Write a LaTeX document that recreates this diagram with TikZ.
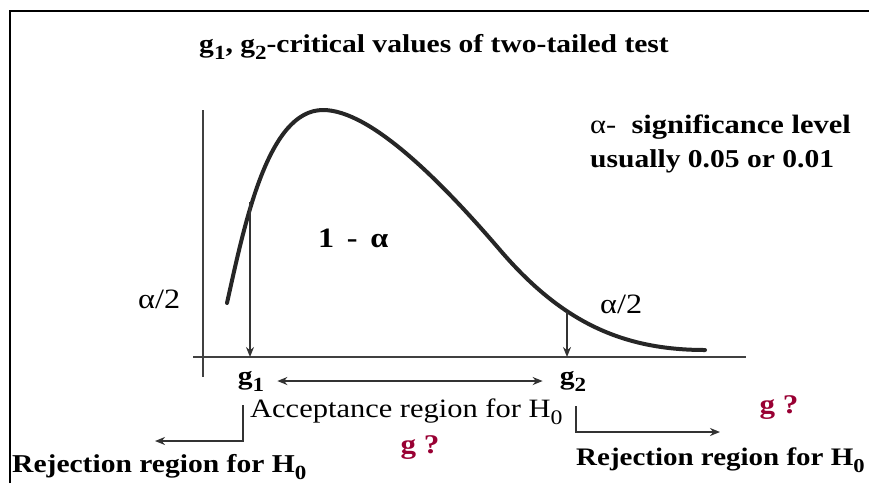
\documentclass[tikz,border=0pt]{standalone}
\usepackage{fontspec}
\setmainfont[FakeStretch=1.15]{Liberation Serif}
\usetikzlibrary{arrows.meta}
\definecolor{qred}{RGB}{153,0,51}
\newcommand{\lowidx}[1]{\raisebox{-0.28em}{\scalebox{0.78}{#1}}}

\begin{document}
\begin{tikzpicture}[x=1pt, y=-1pt,
	every node/.style={font=\fontsize{26.5}{30}\selectfont, inner sep=0pt},
	bold/.style={font=\fontsize{25.7}{30}\selectfont\bfseries},
	greek/.style={font=\fontsize{28}{30}\selectfont},
	query/.style={font=\fontsize{27}{30}\selectfont\bfseries, text=qred},
	axis/.style={line width=1.2pt, black!75},
	density/.style={line width=4pt, black!85, line cap=round},
	pointer/.style={line width=2.2pt, black!80, -{Stealth[length=10pt,width=8pt]}}]
	\useasboundingbox (0,0) rectangle (869,483);
	\draw[line width=2.5pt] (10,483) -- (10,11) -- (869,11);

	\node[bold, anchor=base] (title) at (434,52) {g\lowidx{1}, g\lowidx{2}-critical values of two-tailed test};

	% axes
	\coordinate (ytop) at (203,110);
	\coordinate (ybot) at (203,377);
	\coordinate (xleft) at (193,357);
	\coordinate (xright) at (746,357);
	\draw[axis] (ytop) -- (ybot);
	\draw[axis] (xleft) -- (xright);

	% density curve
	\coordinate (tail1) at (227,303);
	\coordinate (peak) at (323,110);
	\coordinate (bend) at (500,250);
	\coordinate (tail2) at (705,350);
	\draw[density] (tail1) .. controls (245,222) and (268,110) .. (peak)
		.. controls (370,110) and (440,180) .. (bend)
		.. controls (560,320) and (620,350) .. (tail2);

	% critical values
	\coordinate (cut1) at (250,202);
	\coordinate (foot1) at (250,357);
	\coordinate (cut2) at (567,312);
	\coordinate (foot2) at (567,357);
	\draw[pointer] (cut1) -- (foot1);
	\draw[pointer] (cut2) -- (foot2);
	\node[bold, anchor=base] (g1) at (251,384) {g\lowidx{1}};
	\node[bold, anchor=base] (g2) at (573,384) {g\lowidx{2}};
	\draw[pointer, {Stealth[length=10pt,width=8pt]}-{Stealth[length=10pt,width=8pt]}] ([xshift=13pt]g1.east) -- ([xshift=-17pt]g2.west);

	% areas
	\node[greek, anchor=base west] (half1) at (138,308) {α/2};
	\node[greek, anchor=base west] (half2) at (600,313) {α/2};
	\node[bold, font=\fontsize{28}{30}\selectfont\bfseries, anchor=base west] (conf) at (318,247) {1 \,-\, α};
	\node[anchor=base west] (sig) at (590,133) {α- \textbf{ significance level}};
	\node[bold, anchor=base west] (usual) at (590,167) {usually 0.05 or 0.01};

	% regions
	\node[anchor=base west] (accept) at (250,417) {Acceptance region for H\lowidx{0}};
	\node[bold, anchor=base west] (rejleft) at (12,472) {Rejection region for H\lowidx{0}};
	\node[bold, font=\fontsize{25.2}{30}\selectfont\bfseries, anchor=base west] (rejright) at (576,465) {Rejection region for H\lowidx{0}};
	\coordinate (lbend) at (243,405);
	\coordinate (lend) at (155,441);
	\coordinate (rbend) at (576,406);
	\coordinate (rend) at (720,432);
	\draw[pointer] (lbend) |- (lend);
	\draw[pointer] (rbend) |- (rend);
	\node[query, anchor=base] (query1) at (420,453) {g ?};
	\node[query, anchor=base] (query2) at (779,413) {g ?};
\end{tikzpicture}
\end{document}
